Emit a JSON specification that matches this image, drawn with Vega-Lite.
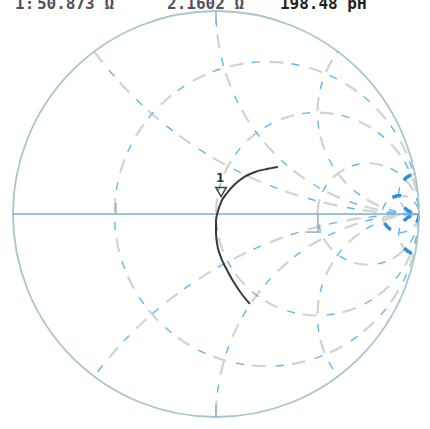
{
  "$schema": "https://vega.github.io/schema/vega-lite/v6.json",
  "width": 428,
  "height": 428,
  "autosize": "none",
  "padding": {"left": 2, "top": 0, "right": 0, "bottom": 1},
  "background": "white",
  "config": {"view": {"stroke": null}},
  "datasets": {
    "circles": [
      {"kind": "r", "value": "1/3", "cx": 0.25, "cy": 0, "rad": 0.75},
      {"kind": "r", "value": "1", "cx": 0.5, "cy": 0, "rad": 0.5},
      {"kind": "r", "value": "3", "cx": 0.75, "cy": 0, "rad": 0.25},
      {"kind": "r", "value": "10", "cx": 0.9091, "cy": 0, "rad": 0.0909},
      {"kind": "x", "value": "0.5", "cx": 1, "cy": 2, "rad": 2},
      {"kind": "x", "value": "-0.5", "cx": 1, "cy": -2, "rad": 2},
      {"kind": "x", "value": "1", "cx": 1, "cy": 1, "rad": 1},
      {"kind": "x", "value": "-1", "cx": 1, "cy": -1, "rad": 1},
      {"kind": "x", "value": "2", "cx": 1, "cy": 0.5, "rad": 0.5},
      {"kind": "x", "value": "-2", "cx": 1, "cy": -0.5, "rad": 0.5},
      {"kind": "x", "value": "10", "cx": 1, "cy": 0.1, "rad": 0.1},
      {"kind": "x", "value": "-10", "cx": 1, "cy": -0.1, "rad": 0.1}
    ],
    "ticks": [
      {"x": -0.493, "y": 0, "x2": -0.493, "y2": 0.054},
      {"x": 0.502, "y": 0, "x2": 0.502, "y2": -0.089},
      {"x": 0.44, "y": -0.089, "x2": 0.517, "y2": -0.089},
      {"x": 0, "y": 0.995, "x2": 0, "y2": 0.936},
      {"x": 0, "y": -0.936, "x2": 0, "y2": -0.995}
    ],
    "trace": [
      {"i": 0, "re": 0.305, "im": 0.232},
      {"i": 1, "re": 0.251, "im": 0.222},
      {"i": 2, "re": 0.192, "im": 0.207},
      {"i": 3, "re": 0.138, "im": 0.182},
      {"i": 4, "re": 0.089, "im": 0.143},
      {"i": 5, "re": 0.054, "im": 0.103},
      {"i": 6, "re": 0.025, "im": 0.059},
      {"i": 7, "re": 0.01, "im": 0.015},
      {"i": 8, "re": 0.0, "im": -0.03},
      {"i": 9, "re": 0.0, "im": -0.094},
      {"i": 10, "re": 0.005, "im": -0.143},
      {"i": 11, "re": 0.02, "im": -0.202},
      {"i": 12, "re": 0.049, "im": -0.266},
      {"i": 13, "re": 0.084, "im": -0.33},
      {"i": 14, "re": 0.123, "im": -0.389},
      {"i": 15, "re": 0.167, "im": -0.443}
    ],
    "marker": [
      {"label": "1", "re": 0.025, "im": 0.059}
    ],
    "header": [
      {"text": "1:", "part": "marker", "x": -0.99, "y": 1.01},
      {"text": "50.873 Ω", "part": "resistance", "x": -0.882, "y": 1.01},
      {"text": "2.1602 Ω", "part": "reactance", "x": -0.241, "y": 1.01},
      {"text": "198.48 pH", "part": "inductance", "x": 0.315, "y": 1.01}
    ]
  },
  "layer": [
    {
      "data": {"name": "circles"},
      "mark": {"type": "point", "shape": "circle", "filled": false, "opacity": 1, "stroke": "#d2d2d2", "strokeWidth": 2.2, "strokeDash": [14, 26]},
      "encoding": {
        "x": {"field": "cx", "type": "quantitative", "scale": {"domain": [-1.0542, 1.0542], "nice": false, "zero": false}, "axis": null},
        "y": {"field": "cy", "type": "quantitative", "scale": {"domain": [-1.0542, 1.0542], "nice": false, "zero": false}, "axis": null},
        "size": {"field": "rad", "type": "quantitative", "scale": {"type": "pow", "exponent": 2, "domain": [0, 1], "range": [0, 164836]}, "legend": null}
      }
    },
    {
      "data": {"name": "circles"},
      "mark": {"type": "point", "shape": "circle", "filled": false, "opacity": 1, "stroke": "#62b6f0", "strokeWidth": 1.4, "strokeDash": [8, 32], "strokeDashOffset": 18},
      "encoding": {
        "x": {"field": "cx", "type": "quantitative", "axis": null},
        "y": {"field": "cy", "type": "quantitative", "axis": null},
        "size": {"field": "rad", "type": "quantitative", "legend": null}
      }
    },
    {
      "data": {"name": "circles"},
      "transform": [{"filter": "datum.value == '10' || datum.value == '-10'"}],
      "mark": {"type": "point", "shape": "circle", "filled": false, "opacity": 1, "stroke": "#2a90e0", "strokeWidth": 3.5, "strokeDash": [9, 30]},
      "encoding": {
        "x": {"field": "cx", "type": "quantitative", "axis": null},
        "y": {"field": "cy", "type": "quantitative", "axis": null},
        "size": {"field": "rad", "type": "quantitative", "legend": null}
      }
    },
    {
      "data": {"values": [{}]},
      "mark": {"type": "point", "shape": "circle", "filled": false, "opacity": 1, "stroke": "white", "strokeWidth": 220},
      "encoding": {
        "x": {"datum": 0, "type": "quantitative", "axis": null},
        "y": {"datum": 0, "type": "quantitative", "axis": null},
        "size": {"value": 394384}
      }
    },
    {
      "data": {"values": [{}]},
      "mark": {"type": "point", "shape": "circle", "filled": false, "opacity": 1, "stroke": "#aac4cf", "strokeWidth": 1.8},
      "encoding": {
        "x": {"datum": 0, "type": "quantitative", "axis": null},
        "y": {"datum": 0, "type": "quantitative", "axis": null},
        "size": {"value": 164836}
      }
    },
    {
      "data": {"values": [{}]},
      "mark": {"type": "rule", "stroke": "#78acd8", "strokeWidth": 1.5},
      "encoding": {
        "x": {"datum": -1, "type": "quantitative", "axis": null},
        "x2": {"datum": 1},
        "y": {"datum": 0, "type": "quantitative", "axis": null}
      }
    },
    {
      "data": {"name": "ticks"},
      "mark": {"type": "rule", "stroke": "#8fb3b8", "strokeWidth": 1.5},
      "encoding": {
        "x": {"field": "x", "type": "quantitative", "axis": null},
        "x2": {"field": "x2"},
        "y": {"field": "y", "type": "quantitative", "axis": null},
        "y2": {"field": "y2"}
      }
    },
    {
      "data": {"name": "trace"},
      "mark": {"type": "line", "stroke": "#3a3a3a", "strokeWidth": 2, "interpolate": "monotone"},
      "encoding": {
        "x": {"field": "re", "type": "quantitative", "axis": null},
        "y": {"field": "im", "type": "quantitative", "axis": null},
        "order": {"field": "i", "type": "quantitative"}
      }
    },
    {
      "data": {"name": "marker"},
      "mark": {"type": "point", "shape": "triangle-down", "filled": false, "opacity": 1, "stroke": "#444444", "strokeWidth": 1.5, "size": 110, "yOffset": -10},
      "encoding": {
        "x": {"field": "re", "type": "quantitative", "axis": null},
        "y": {"field": "im", "type": "quantitative", "axis": null}
      }
    },
    {
      "data": {"name": "marker"},
      "mark": {"type": "text", "font": "DejaVu Sans", "fontSize": 12, "fontWeight": "bold", "color": "#333333", "dy": -20, "dx": -1, "baseline": "alphabetic"},
      "encoding": {
        "x": {"field": "re", "type": "quantitative", "axis": null},
        "y": {"field": "im", "type": "quantitative", "axis": null},
        "text": {"field": "label"}
      }
    },
    {
      "data": {"name": "header"},
      "mark": {"type": "text", "font": "DejaVu Sans Mono", "fontSize": 16, "fontWeight": "bold", "align": "left", "baseline": "alphabetic"},
      "encoding": {
        "x": {"field": "x", "type": "quantitative", "axis": null},
        "y": {"field": "y", "type": "quantitative", "axis": null},
        "text": {"field": "text"},
        "color": {"field": "part", "type": "nominal", "scale": {"domain": ["marker", "resistance", "reactance", "inductance"], "range": ["#55505e", "#55505e", "#55505e", "#222222"]}, "legend": null}
      }
    }
  ]
}
